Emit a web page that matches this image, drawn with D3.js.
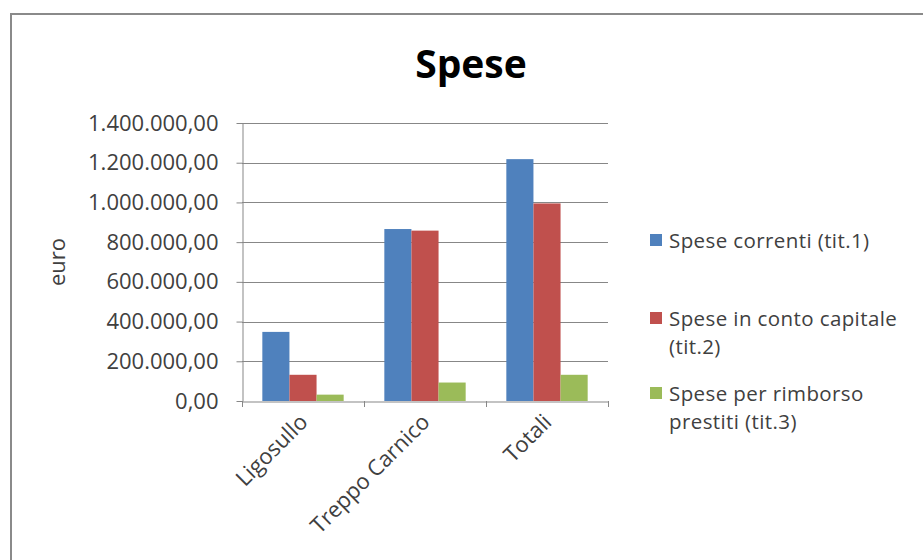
<!DOCTYPE html>
<html><head><meta charset="utf-8">
<script src="https://cdn.jsdelivr.net/npm/d3@7"></script>
<style>body{margin:0;background:#fff}svg{display:block}</style>
</head><body>
<svg id="c" width="923" height="560"></svg>
<script>
const categories = ["Ligosullo", "Treppo Carnico", "Totali"];
const seriesNames = ["Spese correnti (tit.1)", "Spese in conto capitale (tit.2)", "Spese per rimborso prestiti (tit.3)"];
const legendLines = [["Spese correnti (tit.1)"], ["Spese in conto capitale", "(tit.2)"], ["Spese per rimborso", "prestiti (tit.3)"]];
const correnti = [348000, 866000, 1218000];
const capitale = [132000, 858000, 995000];
const rimborso = [32000, 93000, 132000];
const yTicks = [0, 200000, 400000, 600000, 800000, 1000000, 1200000, 1400000];
const colors = ["#4F81BD", "#C0504D", "#9BBB59"];
const series = [correnti, capitale, rimborso];

const svg = d3.select("#c");
const font = "'Open Sans', sans-serif";
const textCol = "#404040";
const fs = 22;

// frame
svg.append("rect").attr("x", 11).attr("y", 14).attr("width", 1000).attr("height", 1000)
  .attr("fill", "#fff").attr("stroke", "#8a8a8a").attr("stroke-width", 2);

const L = 242, R = 608, T = 123, B = 401;
const x0 = d3.scaleBand().domain(categories).range([L, R]).paddingInner(0).paddingOuter(0);
const x1 = d3.scaleBand().domain(d3.range(3)).range([0, x0.bandwidth()]).paddingInner(0).paddingOuter(0.75);
const y = d3.scaleLinear().domain([0, 1400000]).range([B, T]);

const fmt = v => {
  const s = d3.format(",.2f")(v);
  return s.replace(/,/g, "#").replace(".", ",").replace(/#/g, ".");
};

// gridlines
svg.append("g").selectAll("line").data(yTicks.filter(d => d > 0)).join("line")
  .attr("x1", L).attr("x2", R).attr("y1", d => Math.round(y(d)) + 0.5).attr("y2", d => Math.round(y(d)) + 0.5)
  .attr("stroke", "#878787").attr("stroke-width", 1);

// y axis
const yAxis = svg.append("g").attr("transform", `translate(${L + 0.5},0)`)
  .call(d3.axisLeft(y).tickValues(yTicks).tickFormat(fmt).tickSize(6).tickSizeOuter(0));
yAxis.select(".domain").attr("stroke", "#878787");
yAxis.selectAll(".tick line").attr("stroke", "#878787");
yAxis.selectAll(".tick text").attr("font-family", font).attr("font-size", fs).attr("fill", textCol).attr("x", -24);

// bars
const g = svg.append("g");
series.forEach((vals, si) => {
  g.selectAll(null).data(vals).join("rect")
    .attr("x", (d, i) => x0(categories[i]) + x1(si))
    .attr("y", d => y(d))
    .attr("width", x1.bandwidth())
    .attr("height", d => B - y(d))
    .attr("fill", colors[si]);
});

// x axis
const xAxis = svg.append("g").attr("transform", `translate(0,${B + 0.5})`)
  .call(d3.axisBottom(x0).tickSize(0).tickSizeOuter(0));
xAxis.select(".domain").attr("stroke", "#878787");
xAxis.selectAll(".tick text").attr("font-family", font).attr("font-size", fs).attr("fill", textCol)
  .attr("text-anchor", "end").attr("dy", null).attr("y", 0)
  .attr("transform", "translate(6,22) rotate(-45)");
// category separator ticks
svg.append("g").selectAll("line").data([L, ...categories.map(c => x0(c) + x0.bandwidth())]).join("line")
  .attr("x1", d => Math.round(d) + 0.5).attr("x2", d => Math.round(d) + 0.5)
  .attr("y1", B).attr("y2", B + 6).attr("stroke", "#878787");

// y title
svg.append("text").attr("transform", `translate(65,${(T + B) / 2}) rotate(-90)`)
  .attr("text-anchor", "middle").attr("font-family", font).attr("font-size", fs).attr("fill", textCol).text("euro");

// title
svg.append("text").attr("x", 471).attr("y", 78).attr("text-anchor", "middle")
  .attr("font-family", font).attr("font-weight", "bold").attr("font-size", 39).attr("fill", "#000").text("Spese");

// legend
const legendY = [240, 318, 393];
const lfs = 20.5;
legendLines.forEach((lines, i) => {
  svg.append("rect").attr("x", 650).attr("y", legendY[i] - 6).attr("width", 12).attr("height", 12).attr("fill", colors[i]);
  lines.forEach((ln, j) => {
    svg.append("text").attr("x", 669).attr("y", legendY[i] + 8 + j * 28)
      .attr("font-family", font).attr("font-size", lfs).attr("letter-spacing", 0.4)
      .attr("fill", textCol).text(ln);
  });
});
</script>
</body></html>
